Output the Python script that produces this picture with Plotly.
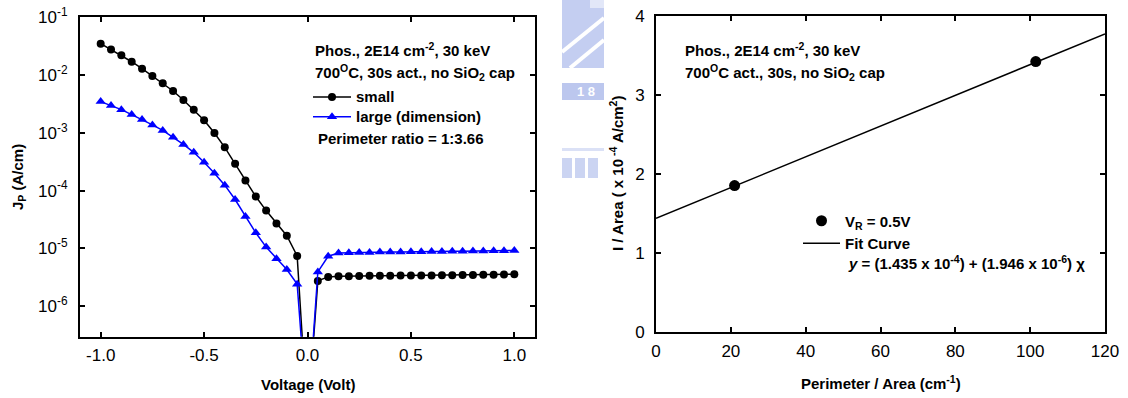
import plotly.graph_objects as go

# ---------------- data ----------------
voltage = [-1.00, -0.95, -0.90, -0.85, -0.80, -0.75, -0.70, -0.65, -0.60, -0.55,
           -0.50, -0.45, -0.40, -0.35, -0.30, -0.25, -0.20, -0.15, -0.10, -0.05,
           0.00, 0.05, 0.10, 0.15, 0.20, 0.25, 0.30, 0.35, 0.40, 0.45,
           0.50, 0.55, 0.60, 0.65, 0.70, 0.75, 0.80, 0.85, 0.90, 0.95, 1.00]

jp_small = [3.5e-2, 2.77e-2, 2.21e-2, 1.70e-2, 1.29e-2, 9.6e-3, 7.2e-3, 5.3e-3, 3.7e-3, 2.52e-3,
            1.65e-3, 9.9e-4, 5.6e-4, 2.9e-4, 1.49e-4, 7.9e-5, 4.5e-5, 2.7e-5, 1.65e-5, 7.4e-6,
            1e-8, 2.73e-6, 3.2e-6, 3.28e-6, 3.30e-6, 3.32e-6, 3.34e-6, 3.35e-6, 3.36e-6, 3.37e-6,
            3.38e-6, 3.39e-6, 3.40e-6, 3.41e-6, 3.42e-6, 3.44e-6, 3.46e-6, 3.48e-6, 3.50e-6, 3.53e-6, 3.56e-6]

jp_large = [3.47e-3, 2.96e-3, 2.52e-3, 2.07e-3, 1.70e-3, 1.37e-3, 1.10e-3, 8.4e-4, 6.3e-4, 4.6e-4,
            3.1e-4, 2.0e-4, 1.24e-4, 7.0e-5, 3.56e-5, 1.86e-5, 1.05e-5, 6.6e-6, 4.3e-6, 2.4e-6,
            1e-8, 3.9e-6, 7.3e-6, 8.3e-6, 8.4e-6, 8.5e-6, 8.5e-6, 8.6e-6, 8.6e-6, 8.6e-6,
            8.7e-6, 8.7e-6, 8.8e-6, 8.8e-6, 8.9e-6, 8.9e-6, 9.0e-6, 9.0e-6, 9.1e-6, 9.1e-6, 9.2e-6]

perim_area = [21.0, 101.5]
i_area = [1.85, 3.42]

fit_x = [0, 120]
fit_y = [1.435, 3.770]

left_xticks = [-1.0, -0.5, 0.0, 0.5, 1.0]
left_xticktext = ["-1.0", "-0.5", "0.0", "0.5", "1.0"]
left_yticks = [1e-1, 1e-2, 1e-3, 1e-4, 1e-5, 1e-6]
left_yticktext = ["10<sup>-1</sup>", "10<sup>-2</sup>", "10<sup>-3</sup>",
                  "10<sup>-4</sup>", "10<sup>-5</sup>", "10<sup>-6</sup>"]
right_xticks = [0, 20, 40, 60, 80, 100, 120]
right_yticks = [0, 1, 2, 3, 4]

# ---------------- layout helpers ----------------
W, H = 1128, 398
def px(x):
    return x / W
def py(y):
    return 1 - y / H

FONT = "Arial, 'Liberation Sans', Helvetica, sans-serif"
TXT = 15

def big(s):
    return "<span style='font-size:15px'><b>" + s + "</b></span>"

fig = go.Figure()

fig.add_trace(go.Scatter(
    x=voltage, y=jp_small, mode="lines+markers", name=big("small"),
    line=dict(color="black", width=1.5),
    marker=dict(symbol="circle", size=8, color="black"),
    xaxis="x", yaxis="y", legend="legend"))
fig.add_trace(go.Scatter(
    x=voltage, y=jp_large, mode="lines+markers", name=big("large (dimension)"),
    line=dict(color="#0000ff", width=1.5),
    marker=dict(symbol="triangle-up", size=9, color="#0000ff"),
    xaxis="x", yaxis="y", legend="legend"))

fig.add_trace(go.Scatter(
    x=perim_area, y=i_area, mode="markers", name="<b>V<sub>R</sub> = 0.5V</b>",
    marker=dict(symbol="circle", size=11, color="black"),
    xaxis="x2", yaxis="y2", legend="legend2"))
fig.add_trace(go.Scatter(
    x=fit_x, y=fit_y, mode="lines", name="<b>Fit Curve</b>",
    line=dict(color="black", width=1.5),
    xaxis="x2", yaxis="y2", legend="legend2"))

axis_common = dict(showgrid=False, zeroline=False, showline=True, linecolor="black",
                   linewidth=2, mirror="ticks", ticks="inside", ticklen=5, tickwidth=1.5,
                   tickcolor="black", tickfont=dict(family=FONT, size=17, color="black"))

fig.update_layout(
    width=W, height=H,
    margin=dict(l=0, r=0, t=0, b=0, autoexpand=False),
    paper_bgcolor="white", plot_bgcolor="white",
    font=dict(family=FONT, size=TXT, color="black"),
    xaxis=dict(domain=[px(80), px(535)], range=[-1.1, 1.1], anchor="y",
               tickvals=left_xticks, ticktext=left_xticktext, ticklabelstandoff=2,
               **axis_common),
    yaxis=dict(domain=[py(336.7), py(17.3)], type="log", range=[-6.53, -1], anchor="x",
               tickvals=left_yticks, ticktext=left_yticktext, ticklabelstandoff=7,
               **axis_common),
    xaxis2=dict(domain=[px(656), px(1105)], range=[0, 120], anchor="y2",
                tickvals=right_xticks, ticklabelstandoff=3, **axis_common),
    yaxis2=dict(domain=[py(331.7), py(15.7)], range=[0, 4], anchor="x2",
                tickvals=right_yticks, ticklabelstandoff=6, **axis_common),
    legend=dict(x=px(308), y=py(82), xanchor="left", yanchor="top",
                bgcolor="rgba(0,0,0,0)", borderwidth=0, itemwidth=38,
                font=dict(family=FONT, size=13, color="black")),
    legend2=dict(x=px(798), y=py(204.5), xanchor="left", yanchor="top",
                 bgcolor="rgba(0,0,0,0)", borderwidth=0, itemwidth=37,
                 font=dict(family=FONT, size=TXT, color="black")),
    showlegend=True,
)

def note(text, x, y, xanchor="left", angle=0):
    fig.add_annotation(text=text, x=px(x), y=py(y), xref="paper", yref="paper",
                       xanchor=xanchor, yanchor="middle", showarrow=False,
                       textangle=angle, font=dict(family=FONT, size=TXT, color="black"))

# left panel texts
note("<b>Phos., 2E14 cm<sup>-2</sup>, 30 keV</b>", 313, 50)
note("<b>700<sup>O</sup>C, 30s act., no SiO<sub>2</sub> cap</b>", 313, 72)
note("<b>Perimeter ratio = 1:3.66</b>", 316, 138)
note("<b>Voltage (Volt)</b>", 307.5, 384, xanchor="center")
note("<b>J<sub>P</sub> (A/cm)</b>", 18, 177, xanchor="center", angle=-90)

# right panel texts
note("<b>Phos., 2E14 cm<sup>-2</sup>, 30 keV</b>", 683, 50)
note("<b>700<sup>O</sup>C act., 30s, no SiO<sub>2</sub> cap</b>", 683, 72)
note("<b><i>y</i> = (1.435 x 10<sup>-4</sup>) + (1.946 x 10<sup>-6</sup>) χ</b>", 846, 262)
note("<b>Perimeter / Area (cm<sup>-1</sup>)</b>", 880.5, 382, xanchor="center")
note("<b>I / Area ( x 10<sup> -4</sup> A/cm<sup>2</sup>)</b>", 616, 174, xanchor="center", angle=-90)

# faint watermark fragment between panels (decoration)
WM = "#c4cef1"
def rect(x0, y0, x1, y1, color):
    fig.add_shape(type="rect", xref="paper", yref="paper", x0=px(x0), x1=px(x1),
                  y0=py(y1), y1=py(y0), fillcolor=color, line=dict(width=0), layer="below")
def seg(x0, y0, x1, y1, color, w):
    fig.add_shape(type="line", xref="paper", yref="paper", x0=px(x0), x1=px(x1),
                  y0=py(y0), y1=py(y1), line=dict(color=color, width=w), layer="below")

rect(562, 0, 604, 68, WM)
rect(590, 0, 604, 8, "#e2e7f8")
seg(562, 52, 604, 18, "white", 4)
seg(570, 68, 604, 40, "white", 4)
rect(562, 83, 604, 100, "#bcc7ee")
fig.add_annotation(text="<b>1 8</b>", x=px(597), y=py(91.5), xref="paper", yref="paper",
                   xanchor="right", yanchor="middle", showarrow=False,
                   font=dict(family=FONT, size=13, color="white"))
rect(562, 148, 604, 151, "#dbe1f6")
for bx in (562, 575, 588):
    rect(bx, 158, bx + 10, 178, "#cbd4f2")

fig.write_html("out.html", config={"displayModeBar": False},
               post_script="document.body.style.margin='0';document.body.style.overflow='hidden';")
